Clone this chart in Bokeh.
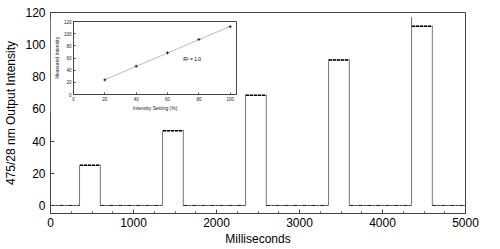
from bokeh.plotting import figure
from bokeh.models import Range1d, FixedTicker, Label
from bokeh.embed import file_html
from bokeh.resources import INLINE
import numpy as np

# ---- main trace data ----
pulse_start = [350, 1350, 2350, 3350, 4350]
pulse_end = [600, 1600, 2600, 3600, 4600]
pulse_peak = [25, 46.5, 69, 91, 117]
pulse_level = [25, 46.5, 68.5, 90.5, 111.5]
t_end = 5000

# ---- inset data ----
setting = [20, 40, 60, 80, 100]
measured = [24, 46.5, 68.5, 90.5, 111.5]

FONT = "Liberation Sans"

xs, ys = [0], [0]
for s, e, pk, lv in zip(pulse_start, pulse_end, pulse_peak, pulse_level):
    xs += [s, s, s, e, e]
    ys += [0, pk, lv, lv, 0]
xs.append(t_end)
ys.append(0)

p = figure(width=500, height=249, output_backend="svg", toolbar_location=None,
           x_range=Range1d(0, 5000), y_range=Range1d(-5, 120),
           min_border_left=50, min_border_right=35, min_border_top=12, min_border_bottom=36)
p.grid.visible = False
p.outline_line_color = "#444"
p.outline_line_width = 1

p.line(xs, ys, line_color="#777", line_width=1)
flat_x = [[0, pulse_start[0]]]
flat_y = [[0, 0]]
for i, (s, e, lv) in enumerate(zip(pulse_start, pulse_end, pulse_level)):
    flat_x.append([s + 5, e])
    flat_y.append([lv, lv])
    nxt = pulse_start[i + 1] if i + 1 < len(pulse_start) else t_end
    flat_x.append([e, nxt])
    flat_y.append([0, 0])
p.multi_line(flat_x[0::2], flat_y[0::2], line_color="#222", line_width=1, line_dash="4 2 1 2")
p.multi_line(flat_x[1::2], flat_y[1::2], line_color="black", line_width=1.5, line_dash="3 1")

p.xaxis.ticker = FixedTicker(ticks=[0, 1000, 2000, 3000, 4000, 5000],
                             minor_ticks=list(range(0, 5001, 250)))
p.yaxis.ticker = FixedTicker(ticks=[0, 20, 40, 60, 80, 100, 120])
p.xaxis.axis_label = "Milliseconds"
p.yaxis.axis_label = "475/28 nm Output Intensity"
for ax in (p.xaxis, p.yaxis):
    ax.major_label_text_font = FONT
    ax.major_label_text_font_size = "12px"
    ax.axis_label_text_font = FONT
    ax.axis_label_text_font_size = "12px"
    ax.axis_label_text_font_style = "normal"
    ax.major_label_text_color = "black"
    ax.axis_label_text_color = "black"
    ax.axis_line_color = "#444"
    ax.major_tick_line_color = "#444"
    ax.minor_tick_line_color = "#444"
    ax.major_tick_in = 4
    ax.major_tick_out = 0
    ax.minor_tick_in = 2
    ax.minor_tick_out = 0
p.yaxis.minor_tick_line_color = None
p.xaxis.axis_label_standoff = 2
p.yaxis.axis_label_standoff = 4
p.xaxis.major_label_standoff = 4
p.yaxis.major_label_standoff = 5

# ---- inset ----
q = figure(width=189, height=96, output_backend="svg", toolbar_location=None,
           x_range=Range1d(0, 104), y_range=Range1d(0, 120),
           min_border_left=16, min_border_right=3, min_border_top=4, min_border_bottom=12,
           background_fill_color="white", border_fill_color="white")
q.grid.visible = False
q.outline_line_color = "#444"
slope, icpt = np.polyfit(setting, measured, 1)
fx = [setting[0], setting[-1]]
q.line(fx, [slope * v + icpt for v in fx], line_color="#aaa", line_width=0.8)
q.scatter(setting, measured, marker="cross", size=3, line_color="black", line_width=0.8)
q.xaxis.ticker = FixedTicker(ticks=[0, 20, 40, 60, 80, 100])
q.yaxis.ticker = FixedTicker(ticks=[0, 20, 40, 60, 80, 100, 120])
q.xaxis.axis_label = "Intensity Setting (%)"
q.yaxis.axis_label = "Measured Intensity"
for ax in (q.xaxis, q.yaxis):
    ax.major_label_text_font = FONT
    ax.major_label_text_font_size = "4.5px"
    ax.axis_label_text_font = FONT
    ax.axis_label_text_font_size = "5px"
    ax.axis_label_text_font_style = "normal"
    ax.major_label_text_color = "#222"
    ax.axis_label_text_color = "#222"
    ax.axis_line_color = "#444"
    ax.major_tick_line_color = "#444"
    ax.minor_tick_line_color = None
    ax.major_tick_in = 2
    ax.major_tick_out = 0
    ax.major_label_standoff = 2
    ax.axis_label_standoff = 1
q.add_layout(Label(x=70, y=58, text="R² = 1.0", text_font=FONT, text_font_size="5px",
                   text_color="black", text_baseline="middle"))
q.styles = {"position": "absolute", "left": "50px", "top": "17px"}

open("out.html", "w").write(file_html([p, q], INLINE))
